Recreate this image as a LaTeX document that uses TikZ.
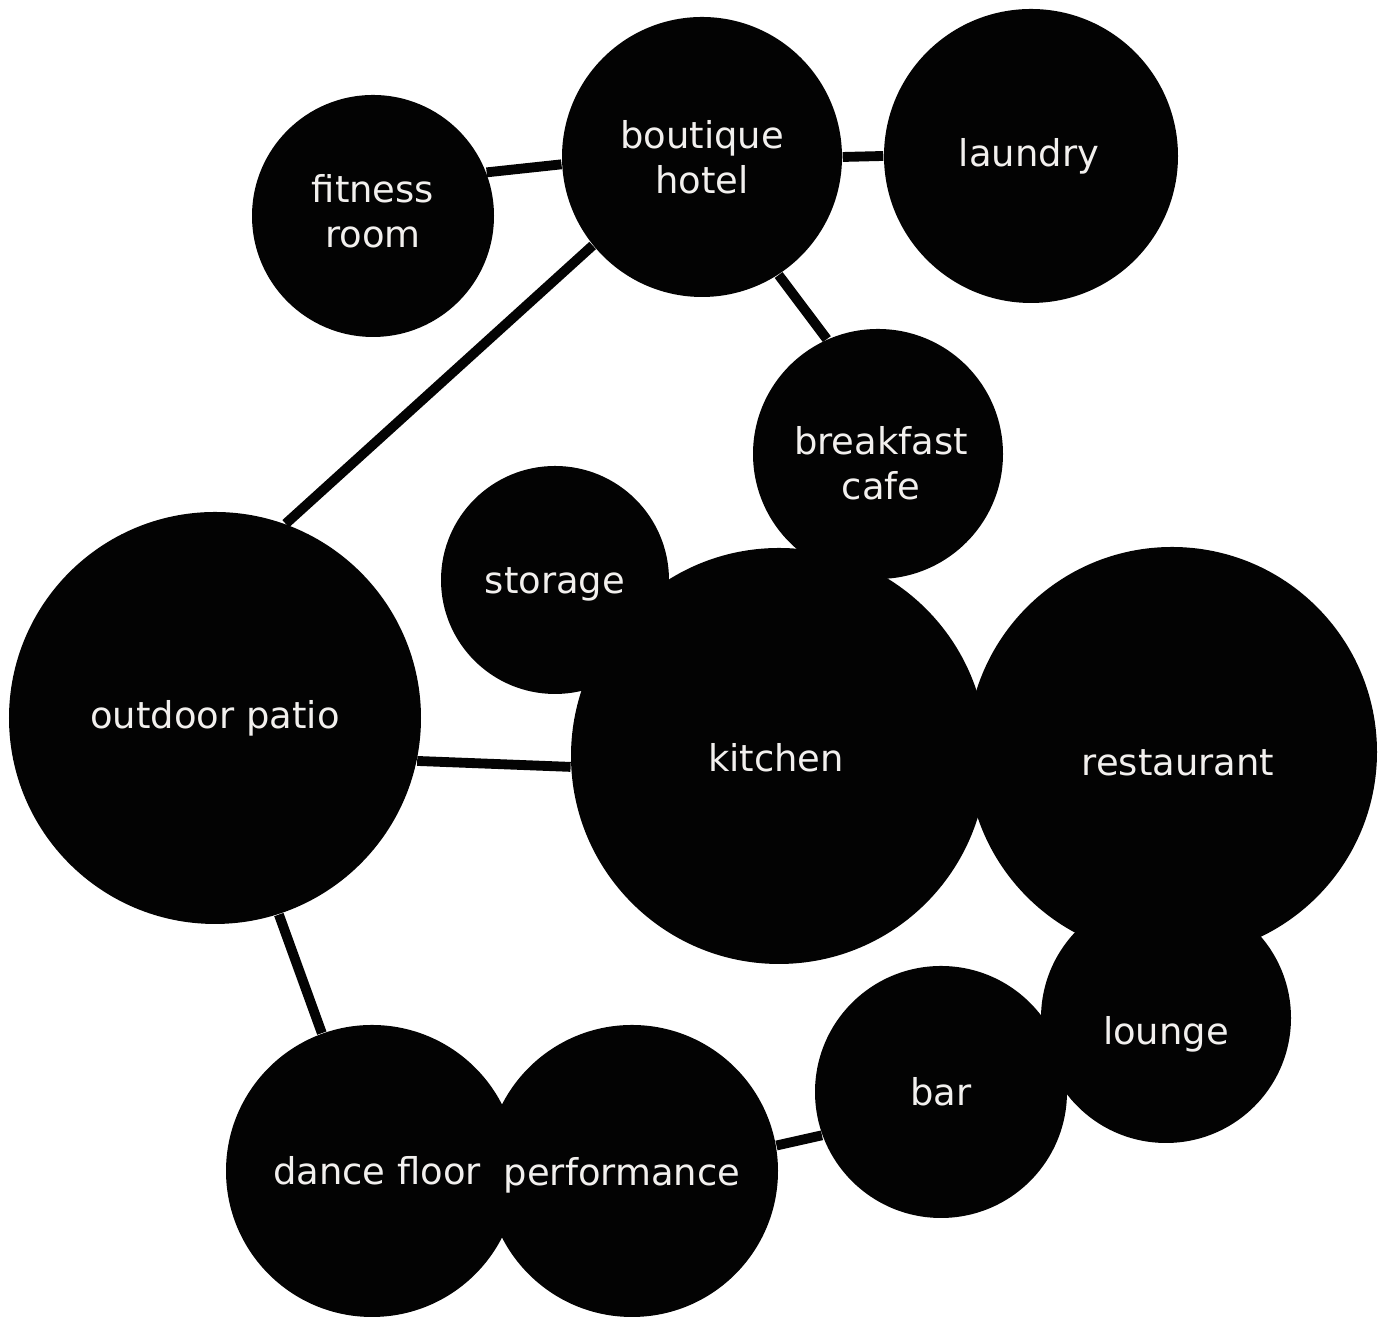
\documentclass[tikz,border=0pt]{standalone}
\usepackage{fontspec}
\setmainfont{DejaVu Sans}
\usetikzlibrary{backgrounds}
\definecolor{ink}{HTML}{030303}
\definecolor{paper}{HTML}{F2F0EE}

\begin{document}
\begin{tikzpicture}[x=1cm,y=1cm,
    room/.style={circle,fill=ink,inner sep=0pt},
    tag/.style={text=paper,inner sep=0pt,align=center,
                font=\fontsize{10.5}{12.8}\selectfont},
    link/.style={ink,line width=2.8pt}]
  \useasboundingbox (0,0) rectangle (13.82,13.17);
  % rooms (label shifted where the text sits off centre)
  \node[room,minimum size=2.42cm,
        label={[tag,name=fitness-t,yshift=0.05cm]center:fitness\\room}]
        (fitness) at (3.73,11.01) {};
  \node[room,minimum size=2.80cm,
        label={[tag,name=hotel-t]center:boutique\\hotel}]
        (hotel) at (7.02,11.60) {};
  \node[room,minimum size=2.94cm,
        label={[tag,name=laundry-t,xshift=-0.02cm]center:laundry}]
        (laundry) at (10.31,11.61) {};
  \node[room,minimum size=2.50cm,
        label={[tag,name=cafe-t,xshift=0.03cm,yshift=-0.09cm]center:breakfast\\cafe}]
        (cafe) at (8.78,8.63) {};
  \node[room,minimum size=2.28cm,
        label={[tag,name=storage-t,yshift=-0.04cm]center:storage}]
        (storage) at (5.55,7.37) {};
  \node[room,minimum size=4.12cm,
        label={[tag,name=patio-t]center:outdoor patio}]
        (patio) at (2.15,5.99) {};
  \node[room,minimum size=4.16cm,
        label={[tag,name=kitchen-t,xshift=-0.03cm,yshift=-0.02cm]center:kitchen}]
        (kitchen) at (7.79,5.61) {};
  \node[room,minimum size=4.10cm,
        label={[tag,name=restaurant-t,xshift=0.06cm,yshift=-0.11cm]center:restaurant}]
        (restaurant) at (11.72,5.65) {};
  \node[room,minimum size=2.50cm,
        label={[tag,name=lounge-t,yshift=-0.16cm]center:lounge}]
        (lounge) at (11.66,2.99) {};
  \node[room,minimum size=2.52cm,
        label={[tag,name=bar-t]center:bar}]
        (bar) at (9.41,2.25) {};
  \node[room,minimum size=2.92cm,
        label={[tag,name=dance-t,xshift=0.05cm]center:dance floor}]
        (dance) at (3.72,1.46) {};
  \node[room,minimum size=2.92cm,
        label={[tag,name=performance-t,xshift=-0.10cm,yshift=-0.04cm]center:performance}]
        (performance) at (6.32,1.46) {};
  % links, under the rooms
  \begin{scope}[on background layer]
    \draw[link] (fitness.21) -- (hotel.183);
    \draw[link] (hotel.0) -- (laundry.180);
    \draw[link] (hotel.-57) -- (cafe.114);
    \draw[link] (hotel.219) -- (patio.70);
    \draw[link] (patio.-12) -- (kitchen.183);
    \draw[link] (patio.-72) -- (dance.110);
    \draw[link] (performance.10) -- (bar.200);
  \end{scope}
\end{tikzpicture}
\end{document}
